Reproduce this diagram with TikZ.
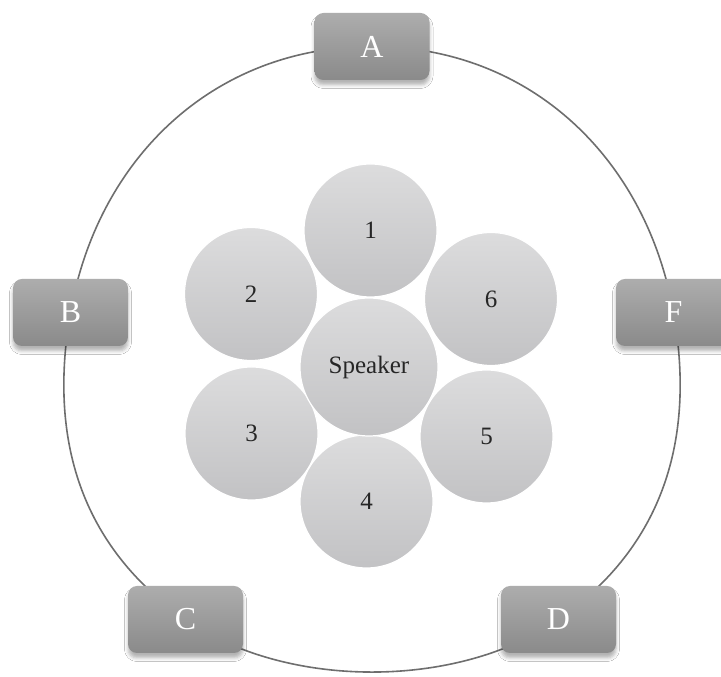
\documentclass[tikz,border=0pt]{standalone}
\usepackage{fontspec}
\setmainfont{Liberation Serif}
\usetikzlibrary{shadows.blur,backgrounds}

\definecolor{boxtop}{HTML}{ADADAD}
\definecolor{boxbot}{HTML}{8A8A8A}
\definecolor{circtop}{HTML}{DCDCDD}
\definecolor{circbot}{HTML}{C2C2C4}
\definecolor{circtext}{HTML}{262626}
\definecolor{ringgray}{HTML}{6E6E6E}

\begin{document}
\begin{tikzpicture}[x=1pt,y=1pt,
  seat/.style={rectangle, rounded corners=9pt, minimum width=115pt,
    minimum height=67pt, top color=boxtop, bottom color=boxbot,
    text=white, font=\fontsize{32}{36}\selectfont,
    blur shadow={shadow xshift=0pt, shadow yshift=-5pt,
      shadow blur radius=3.5pt, shadow opacity=30}},
  member/.style={circle, inner sep=0pt, minimum size=133pt,
    top color=circtop, bottom color=circbot, draw=white, line width=1.2pt,
    text=circtext, font=\fontsize{25}{28}\selectfont},
  ring/.style={draw=ringgray, line width=1.6pt}
]
\useasboundingbox (0,0) rectangle (721,677);

% outer seats
\node[seat] (A) at (372,630.5) {A};
\node[seat] (B) at (70.5,364.5) {B};
\node[seat] (F) at (673.5,364.5) {F};
\node[seat] (C) at (185.5,57.5) {C};
\node[seat] (D) at (558.5,57.5) {D};

% inner group around the speaker
\node[member] (m1) at (370.5,446.5) {1};
\node[member] (m2) at (251,383) {2};
\node[member] (m6) at (491,378) {6};
\node[member] (m3) at (251.5,243.5) {3};
\node[member] (m5) at (486.5,240.5) {5};
\node[member] (m4) at (366.5,175.5) {4};
\node[member, minimum size=138pt] (spk) at (369,310) {Speaker};

% ring linking the seats
\begin{scope}[on background layer]
  \fill[white] (0,0) rectangle (721,677);
  \draw[ring] (A.center) to[out=180,in=80] (B.center)
    to[out=260,in=145] (C.center)
    to[out=-35,in=215,looseness=0.84] (D.center)
    to[out=35,in=280] (F.center)
    to[out=100,in=0] (A.center);
\end{scope}
\end{tikzpicture}
\end{document}
